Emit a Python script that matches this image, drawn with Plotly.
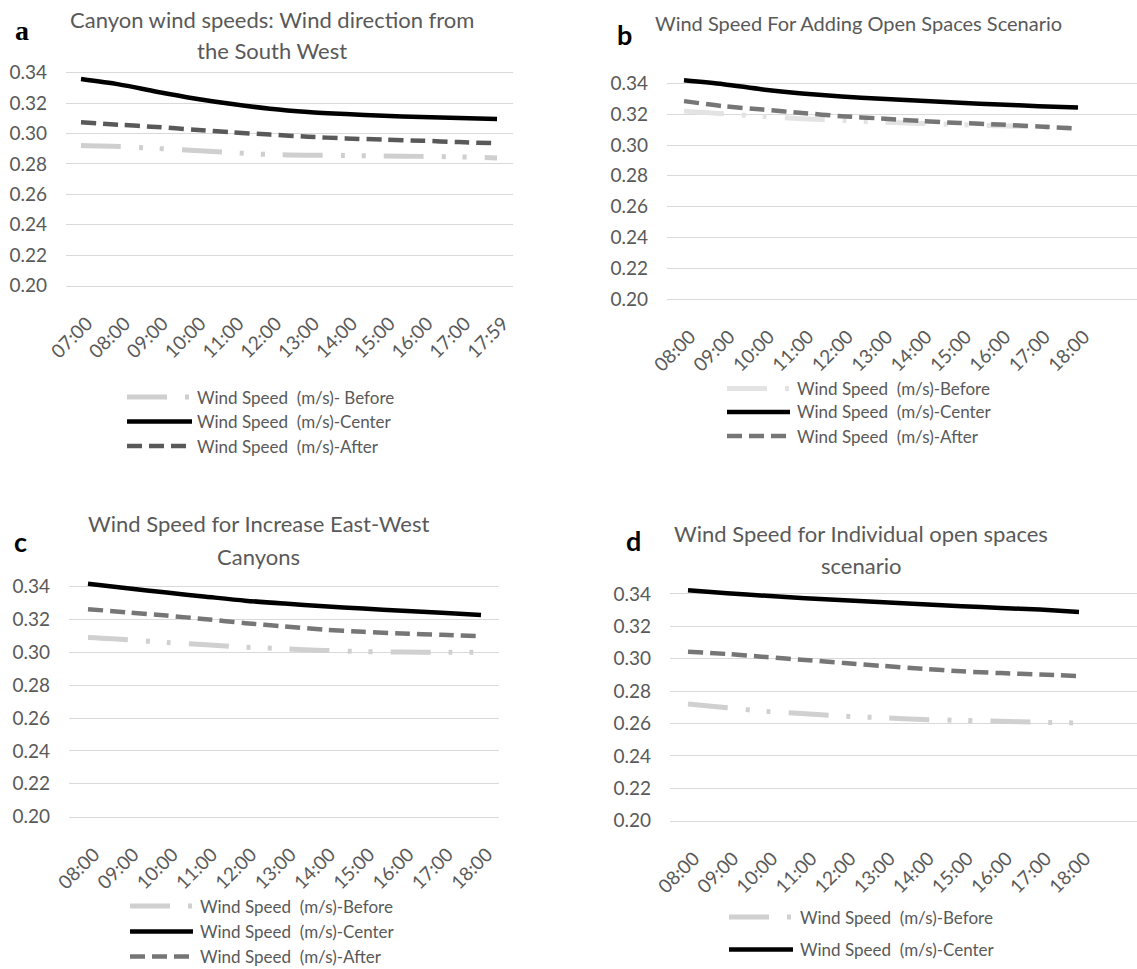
import plotly.graph_objects as go

# ---------------- data ----------------
times_a = ["07:00", "08:00", "09:00", "10:00", "11:00", "12:00",
           "13:00", "14:00", "15:00", "16:00", "17:00", "17:59"]
times_bcd = ["08:00", "09:00", "10:00", "11:00", "12:00", "13:00",
             "14:00", "15:00", "16:00", "17:00", "18:00"]

a_before = [0.2921, 0.2915, 0.2902, 0.2889, 0.2874, 0.2862,
            0.2858, 0.2855, 0.2853, 0.2850, 0.2847, 0.2840]
a_center = [0.3358, 0.3323, 0.3275, 0.3231, 0.3194, 0.3163,
            0.3142, 0.3128, 0.3117, 0.3109, 0.3102, 0.3096]
a_after = [0.3074, 0.3058, 0.3043, 0.3025, 0.3008, 0.2993,
           0.2979, 0.2968, 0.2960, 0.2953, 0.2944, 0.2936]

b_before = [0.3220, 0.3203, 0.3185, 0.3170, 0.3160, 0.3148,
            0.3140, 0.3132, 0.3125, 0.3117, 0.3110]
b_center = [0.3420, 0.3395, 0.3361, 0.3335, 0.3315, 0.3300,
            0.3287, 0.3274, 0.3263, 0.3252, 0.3244]
b_after = [0.3285, 0.3252, 0.3230, 0.3208, 0.3187, 0.3172,
           0.3156, 0.3143, 0.3133, 0.3120, 0.3107]

c_before = [0.3090, 0.3077, 0.3060, 0.3047, 0.3032, 0.3022,
            0.3012, 0.3005, 0.3002, 0.3001, 0.3000]
c_center = [0.3418, 0.3390, 0.3364, 0.3339, 0.3315, 0.3297,
            0.3281, 0.3267, 0.3253, 0.3242, 0.3228]
c_after = [0.3263, 0.3244, 0.3224, 0.3202, 0.3178, 0.3158,
           0.3139, 0.3125, 0.3115, 0.3107, 0.3099]

d_before = [0.2720, 0.2697, 0.2675, 0.2660, 0.2645, 0.2635,
            0.2625, 0.2619, 0.2614, 0.2608, 0.2603]
d_center = [0.3423, 0.3404, 0.3388, 0.3373, 0.3361, 0.3348,
            0.3336, 0.3324, 0.3313, 0.3303, 0.3289]
d_after = [0.3043, 0.3029, 0.3010, 0.2992, 0.2973, 0.2955,
           0.2938, 0.2922, 0.2911, 0.2903, 0.2893]

y_ticks = [0.20, 0.22, 0.24, 0.26, 0.28, 0.30, 0.32, 0.34]

# ---------------- page geometry (pixels) ----------------
W, H = 1137, 969
FONT = "Lato"
GREY_TXT = "#595959"
GRID = "#d9d9d9"


def fx(p):
    return p / W


def fy(p):
    return 1 - p / H


# grid left/right, first point x, point spacing, y of 0.20, px per 0.02
panels = {
    "a": dict(gl=66, gr=513, x0=81, dx=37.82, yb=285.7, dy=30.43),
    "b": dict(gl=667, gr=1137, x0=684, dx=39.4, yb=299.0, dy=30.8),
    "c": dict(gl=69, gr=499, x0=88, dx=39.3, yb=816.7, dy=32.86),
    "d": dict(gl=670, gr=1137, x0=688, dx=39.1, yb=820.7, dy=32.4),
}

BEFORE_DASH = "40px,18px,4px,17px,4px,18px"
AFTER_DASH = "15px,7px"

styles = {
    "a": dict(before="#cfcfcf", after="#595959"),
    "b": dict(before="#e3e3e3", after="#767676"),
    "c": dict(before="#d0d0d0", after="#767676"),
    "d": dict(before="#d0d0d0", after="#767676"),
}

series = {
    "a": (times_a, a_before, a_center, a_after),
    "b": (times_bcd, b_before, b_center, b_after),
    "c": (times_bcd, c_before, c_center, c_after),
    "d": (times_bcd, d_before, d_center, d_after),
}

fig = go.Figure()
layout = dict(
    template="none",
    width=W, height=H, margin=dict(l=0, r=0, t=0, b=0, pad=0),
    paper_bgcolor="white", plot_bgcolor="white", showlegend=False,
    font=dict(family=FONT, color=GREY_TXT),
)

for idx, key in enumerate(["a", "b", "c", "d"], start=1):
    g = panels[key]
    cats, before, center, after = series[key]
    sfx = "" if idx == 1 else str(idx)
    xa, ya = "x" + sfx, "y" + sfx
    st = styles[key]

    fig.add_trace(go.Scatter(x=cats, y=before, mode="lines", xaxis=xa, yaxis=ya,
                             line=dict(color=st["before"], width=5, dash=BEFORE_DASH,
                                       shape="spline", smoothing=0.8)))
    fig.add_trace(go.Scatter(x=cats, y=after, mode="lines", xaxis=xa, yaxis=ya,
                             line=dict(color=st["after"], width=4.5, dash=AFTER_DASH,
                                       shape="spline", smoothing=0.8)))
    fig.add_trace(go.Scatter(x=cats, y=center, mode="lines", xaxis=xa, yaxis=ya,
                             line=dict(color="black", width=4.5,
                                       shape="spline", smoothing=0.8)))

    y_top = g["yb"] - 7.5 * g["dy"]
    r0 = (g["gl"] - g["x0"]) / g["dx"]
    r1 = (g["gr"] - g["x0"]) / g["dx"]
    layout["xaxis" + sfx] = dict(
        domain=[fx(g["gl"]), fx(g["gr"])], anchor=ya, type="category",
        range=[r0, r1], showgrid=False, zeroline=False, automargin=False,
        showline=True, linecolor=GRID, linewidth=1.3,
        ticks="", tickangle=-45, ticklabelstandoff=18, ticklabelshift=6,
        tickfont=dict(family=FONT, size=19, color=GREY_TXT),
    )
    layout["yaxis" + sfx] = dict(
        domain=[fy(g["yb"]), fy(y_top)], anchor=xa, automargin=False,
        range=[0.20, 0.35], tickvals=y_ticks, tickformat=".2f",
        showgrid=True, gridcolor=GRID, gridwidth=1.3, zeroline=False,
        showline=False, ticks="", ticklabelstandoff=18,
        tickfont=dict(family=FONT, size=19, color=GREY_TXT),
    )

annotations = []
shapes = []


def text(x, y, s, size, color=GREY_TXT, anchor="center", bold=False, family=FONT):
    annotations.append(dict(
        xref="paper", yref="paper", x=fx(x), y=fy(y), text=("<b>%s</b>" % s) if bold else s,
        showarrow=False, xanchor=anchor, yanchor="middle", borderpad=0,
        font=dict(family=family, size=size, color=color)))


# panel letters
text(22, 30, "a", 28, color="black", bold=True, family="Liberation Serif")
text(624, 34, "b", 27, color="black", bold=True)
text(20, 541, "c", 27, color="black", bold=True)
text(633, 540, "d", 27, color="black", bold=True)

# chart titles
text(272, 19, "Canyon wind speeds: Wind direction from", 22)
text(272, 50, "the South West", 22)
text(858, 23, "Wind Speed For Adding Open Spaces Scenario", 20)
text(258, 523, "Wind Speed for Increase East-West", 22)
text(258, 556, "Canyons", 22)
text(861, 533, "Wind Speed for Individual open spaces", 22)
text(861, 565, "scenario", 22)

# legends: swatch x-start, swatch x-end, text x, row y positions, label names
legends = {
    "a": dict(x1=127, x2=192, tx=196, rows=[397, 421.5, 446],
              names=["Wind Speed\u00a0 (m/s)- Before", "Wind Speed\u00a0 (m/s)-Center",
                     "Wind Speed\u00a0 (m/s)-After"]),
    "b": dict(x1=727, x2=790, tx=796, rows=[388.5, 412, 436],
              names=["Wind Speed\u00a0 (m/s)-Before", "Wind Speed\u00a0 (m/s)-Center",
                     "Wind Speed\u00a0 (m/s)-After"]),
    "c": dict(x1=130, x2=193, tx=199, rows=[906, 931.5, 956.5],
              names=["Wind Speed\u00a0 (m/s)-Before", "Wind Speed\u00a0 (m/s)-Center",
                     "Wind Speed\u00a0 (m/s)-After"]),
    "d": dict(x1=729, x2=793, tx=799, rows=[917, 949.5],
              names=["Wind Speed\u00a0 (m/s)-Before", "Wind Speed\u00a0 (m/s)-Center"]),
}

for key, lg in legends.items():
    st = styles[key]
    line_styles = [
        dict(color=st["before"], width=5, dash=BEFORE_DASH),
        dict(color="black", width=4.5),
        dict(color=st["after"], width=4.5, dash=AFTER_DASH),
    ]
    for row_y, name, ls in zip(lg["rows"], lg["names"], line_styles):
        shapes.append(dict(type="line", xref="paper", yref="paper",
                           x0=fx(lg["x1"]), x1=fx(lg["x2"]), y0=fy(row_y), y1=fy(row_y),
                           line=ls))
        text(lg["tx"], row_y, name, 17, anchor="left")

layout["annotations"] = annotations
layout["shapes"] = shapes
fig.update_layout(**layout)
fig.write_html("out.html")
